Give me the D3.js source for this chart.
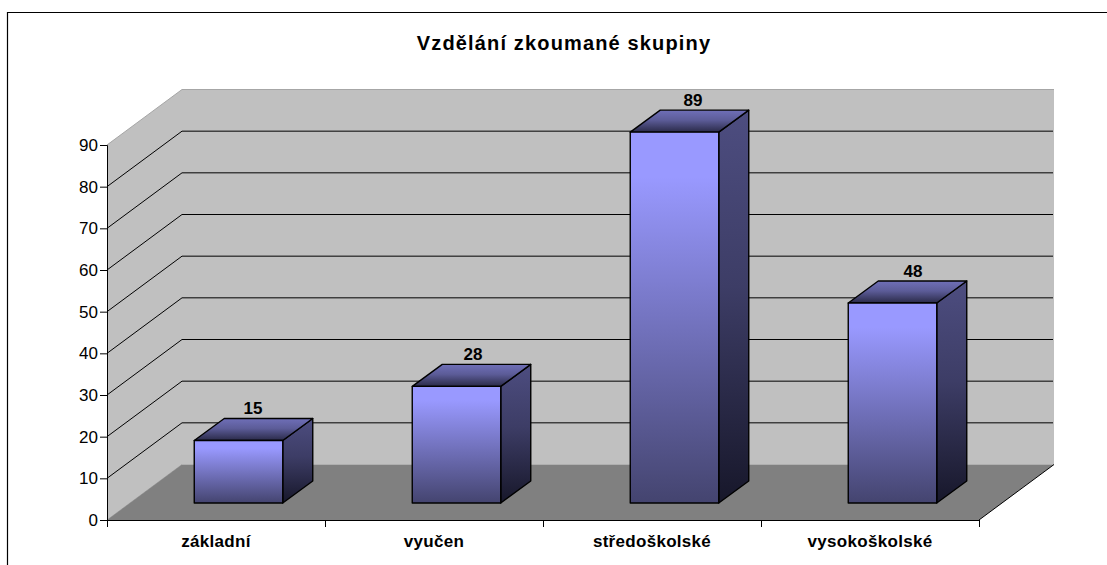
<html lang="en">
  <head>
    <meta charset="utf-8">
    <title>Vzdělání zkoumané skupiny</title>
    <script src="https://d3js.org/d3.v7.min.js"></script>
    <style>
      body { margin: 0; background: #fff; }
      text { font-family: "Liberation Sans", Arial, sans-serif; fill: #000; }
    </style>
  </head>
  <body>
    <script type="text/javascript">
      var w = 1107;
      var h = 565;
      var categories = ["základní", "vyučen", "středoškolské", "vysokoškolské"];
      var values = [15, 28, 89, 48];
      var ticks = [0, 10, 20, 30, 40, 50, 60, 70, 80, 90];
      var title = "Vzdělání zkoumané skupiny";

      // front plane of the fake 3d box
      var xScale = d3.scaleBand().domain(categories).range([107, 979]);
      var yScale = d3.scaleLinear().domain([0, 90]).range([520, 145]);
      var depthX = 75, depthY = 55.5;
      // bars stand part way into the floor
      var barX = 22.5, barY = 17, barW = 88.5, barDX = 30, barDY = 22;

      var svg = d3.select("body").append("svg")
                  .attr("width", w)
                  .attr("height", h)
                  .style("display", "block");

      var defs = svg.append("defs");
      function grad(id, stops) {
        var g = defs.append("linearGradient").attr("id", id)
                    .attr("x1", 0).attr("y1", 0).attr("x2", 0).attr("y2", 1);
        stops.forEach(function (s) {
          g.append("stop").attr("offset", s[0]).attr("stop-color", s[1]);
        });
      }
      grad("front", [[0, "#9999ff"], [0.12, "#9999ff"], [1, "#44446f"]]);
      grad("top", [[0, "#6f6fb8"], [0.45, "#5c5c98"], [1, "#2a2a48"]]);
      grad("side", [[0, "#4d4d80"], [0.45, "#3d3d66"], [1, "#17172a"]]);

      function poly(points, fill, stroke, sw) {
        return svg.append("polygon")
                  .attr("points", points.map(function (p) { return p.join(","); }).join(" "))
                  .attr("fill", fill)
                  .attr("stroke", stroke || "none")
                  .attr("stroke-width", sw || 0)
                  .attr("stroke-linejoin", "round");
      }

      // outer frame, only top and left are inside the page
      svg.append("path")
         .attr("d", `M7.5,${h}V12.5H${w}`)
         .attr("fill", "none")
         .attr("stroke", "#000")
         .attr("stroke-width", 1.2);

      svg.append("text")
         .attr("x", 564).attr("y", 50)
         .attr("text-anchor", "middle")
         .attr("font-size", 20)
         .attr("font-weight", "bold")
         .attr("letter-spacing", 1.15)
         .text(title);

      var x0 = xScale.range()[0], x1 = xScale.range()[1];
      var y0 = yScale(0), yT = yScale(90);

      // walls and floor
      poly([[x0, yT], [x0 + depthX, yT - depthY], [x1 + depthX, yT - depthY], [x1 + depthX, y0 - depthY], [x0 + depthX, y0 - depthY], [x0, y0]], "#c0c0c0");
      svg.append("path")
         .attr("d", `M${x0},${yT}L${x0 + depthX},${yT - depthY}H${x1 + depthX}`)
         .attr("fill", "none").attr("stroke", "#a6a6a6").attr("stroke-width", 1);
      svg.append("path")
         .attr("d", `M${x0},${y0}L${x0 + depthX},${y0 - depthY}`)
         .attr("fill", "none").attr("stroke", "#a6a6a6").attr("stroke-width", 1);
      poly([[x0, y0], [x0 + depthX, y0 - depthY], [x1 + depthX, y0 - depthY], [x1, y0]], "#808080");

      // gridlines, skipping 0 and the top edge
      var grid = svg.append("g").attr("fill", "none").attr("stroke", "#000").attr("stroke-width", 1);
      ticks.slice(1, -1).forEach(function (t) {
        grid.append("path")
            .attr("d", `M${x0},${yScale(t)}L${x0 + depthX},${yScale(t) - depthY}H${x1 + depthX - 1}`);
      });
      // floor front-right edge
      grid.append("path").attr("d", `M${x1},${y0}L${x1 + depthX},${y0 - depthY}`);

      // axes
      var yAxis = d3.axisLeft(yScale).tickValues(ticks).tickSize(7).tickPadding(2);
      var yG = svg.append("g").attr("transform", `translate(${x0},0)`).call(yAxis);
      yG.selectAll("text").attr("font-size", 17).attr("font-family", null);

      var xAxis = d3.axisBottom(xScale).tickSize(0).tickPadding(15);
      var xG = svg.append("g").attr("transform", `translate(0,${y0})`).call(xAxis);
      xG.selectAll("text").attr("font-size", 17).attr("font-weight", "bold")
        .attr("letter-spacing", 0.3).attr("font-family", null);
      xG.selectAll(".tick line").remove();
      xScale.domain().forEach(function (c) {
        xG.append("line").attr("stroke", "#000")
          .attr("x1", xScale(c) + 0.5).attr("x2", xScale(c) + 0.5).attr("y1", 0).attr("y2", 7);
      });
      xG.append("line").attr("stroke", "#000").attr("x1", x1 + 0.5).attr("x2", x1 + 0.5).attr("y1", 0).attr("y2", 7);

      // bars
      categories.forEach(function (c, i) {
        var v = values[i];
        var left = xScale(c) + (xScale.bandwidth() - barW) / 2 + barX;
        var right = left + barW;
        var base = yScale(0) - barY;
        var top = yScale(v) - barY;
        poly([[right, top], [right + barDX, top - barDY], [right + barDX, base - barDY], [right, base]], "url(#side)", "#000", 1.4);
        poly([[left, top], [left + barDX, top - barDY], [right + barDX, top - barDY], [right, top]], "url(#top)", "#000", 1.4);
        poly([[left, top], [right, top], [right, base], [left, base]], "url(#front)", "#000", 1.4);
        // labels drift a little to the right across the chart
        svg.append("text")
           .attr("x", left + barW / 2 + barDX / 2 + i * 2 - 0.5)
           .attr("y", top - barDY - 4.5)
           .attr("text-anchor", "middle")
           .attr("font-size", 17)
           .attr("font-weight", "bold")
           .text(v);
      });
    </script>
  </body>
</html>
